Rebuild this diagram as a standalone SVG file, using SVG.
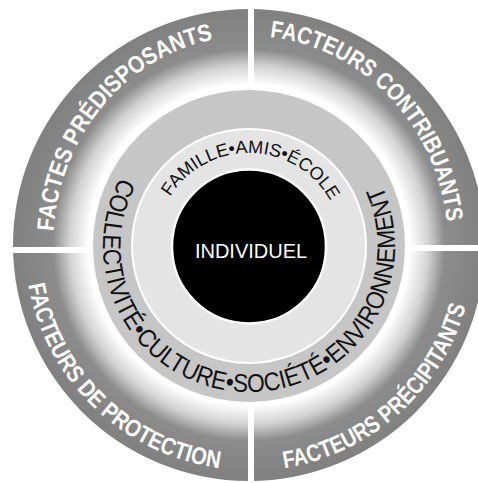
<svg xmlns="http://www.w3.org/2000/svg" xmlns:xlink="http://www.w3.org/1999/xlink" width="478" height="483" viewBox="0 0 478 483">
<defs>
<radialGradient id="outerGrad" gradientUnits="userSpaceOnUse" cx="249" cy="245" r="236">
<stop offset="0" stop-color="#ffffff"/>
<stop offset="0.68" stop-color="#ffffff"/>
<stop offset="0.76" stop-color="#d2d2d2"/>
<stop offset="0.83" stop-color="#8c8c8c"/>
<stop offset="1" stop-color="#808080"/>
</radialGradient>
<path id="pTL" d="M53.5,231.4 A196,210 0 0 1 215.0,39.2"/>
<path id="pTR" d="M269.8,37.15 A199,210 0 0 1 446.9,224.05"/>
<path id="pBL" d="M28.4,284.9 A224,224 0 0 0 221.7,468.3"/>
<path id="pBR" d="M284.2,468.2 A225,225 0 0 0 466.3,304.2"/>
<path id="pMid" d="M120.1,177.5 A146,146 0 1 0 380.2,182.0"/>
<path id="pIn" d="M170.1,196.7 A93,93 0 0 1 331.1,202.3"/>
</defs>
<style>
.outer{font-family:"Liberation Sans",Arial,sans-serif;font-weight:bold;font-size:24px;fill:#ffffff}
.mid{font-family:"Liberation Sans",Arial,sans-serif;font-size:25.5px;fill:#111111}
.inner{font-family:"Liberation Sans",Arial,sans-serif;font-size:18px;fill:#111111}
.core{font-family:"Liberation Sans",Arial,sans-serif;font-size:20px;fill:#ffffff}
</style>
<rect width="478" height="483" fill="#ffffff"/>
<g id="outer-ring">
<circle cx="249" cy="245" r="236" fill="url(#outerGrad)"/>
<rect x="248" y="0" width="6" height="90" fill="#ffffff"/>
<rect x="248" y="402" width="6" height="81" fill="#ffffff"/>
<rect x="0" y="247" width="92" height="6" fill="#ffffff"/>
<rect x="406" y="245" width="72" height="6" fill="#ffffff"/>
</g>
<g id="facteurs-predisposants">
<text class="outer"><textPath xlink:href="#pTL" href="#pTL" textLength="268" lengthAdjust="spacingAndGlyphs">FACTES PRÉDISPOSANTS</textPath></text>
</g>
<g id="facteurs-contribuants">
<text class="outer"><textPath xlink:href="#pTR" href="#pTR" textLength="276" lengthAdjust="spacingAndGlyphs">FACTEURS CONTRIBUANTS</textPath></text>
</g>
<g id="facteurs-protection">
<text class="outer"><textPath xlink:href="#pBL" href="#pBL" textLength="283" lengthAdjust="spacingAndGlyphs">FACTEURS DE PROTECTION</textPath></text>
</g>
<g id="facteurs-precipitants">
<text class="outer"><textPath xlink:href="#pBR" href="#pBR" textLength="257" lengthAdjust="spacingAndGlyphs">FACTEURS PRÉCIPITANTS</textPath></text>
</g>
<g id="collectivite-ring">
<circle cx="249" cy="246" r="156" fill="#c6c6c6"/>
<text class="mid"><textPath xlink:href="#pMid" href="#pMid" textLength="592" lengthAdjust="spacingAndGlyphs">COLLECTIVITÉ•CULTURE•SOCIÉTÉ•ENVIRONNEMENT</textPath></text>
</g>
<g id="famille-ring">
<circle cx="249" cy="246" r="117" fill="#e4e4e4" stroke="#ffffff" stroke-width="2"/>
<text class="inner"><textPath xlink:href="#pIn" href="#pIn" textLength="193" lengthAdjust="spacingAndGlyphs">FAMILLE•AMIS•ÉCOLE</textPath></text>
</g>
<g id="individuel">
<circle cx="249" cy="246.5" r="77" fill="#000000" stroke="#ffffff" stroke-width="2.5"/>
<text class="core" x="251" y="258" text-anchor="middle">INDIVIDUEL</text>
</g>
<g id="connectors"/>
</svg>
